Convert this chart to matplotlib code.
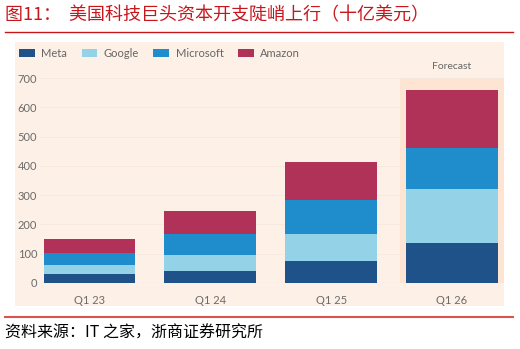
import matplotlib
matplotlib.use("Agg")
import matplotlib.pyplot as plt
from matplotlib.patches import Rectangle
from matplotlib.lines import Line2D
import numpy as np

# capex, billions of USD
quarters = ["Q1 23", "Q1 24", "Q1 25", "Q1 26"]
companies = ["Meta", "Google", "Microsoft", "Amazon"]
meta = [29, 41, 74, 137]
google = [33, 53, 92, 185]
microsoft = [40, 74, 117, 139]
amazon = [49, 79, 129, 200]
colors = ["#1f5289", "#94d2e8", "#1f8dcb", "#b13259"]

W, H = 520, 349
plt.rcParams['font.family'] = ['Lato', 'Noto Sans CJK SC', 'DejaVu Sans']

fig = plt.figure(figsize=(W / 100, H / 100), dpi=100)
fig.patch.set_facecolor("white")

def fx(px):
    return px / W

def fy(py):
    return 1 - py / H

# peach panel behind the chart
fig.patches.append(Rectangle((fx(15), fy(306)), fx(504) - fx(15), fy(42) - fy(306),
                             transform=fig.transFigure, facecolor="#fdf0e6",
                             edgecolor="none", zorder=0))

ymax = 760
ppu = 0.292  # pixels per unit
ax = fig.add_axes([fx(40), fy(282.7), fx(504) - fx(40), ymax * ppu / H])
ax.set_facecolor("none")
ax.set_zorder(1)

x = np.arange(len(quarters))
width = 0.76
series = [meta, google, microsoft, amazon]
bottom = np.zeros(len(quarters))
for name, vals, c in zip(companies, series, colors):
    ax.bar(x, vals, width, bottom=bottom, color=c, label=name, zorder=3)
    bottom += np.array(vals)

# forecast shading around the last bar
ax.add_patch(Rectangle((x[-1] - 0.43, 0), 0.86, 702, facecolor="#fde4d3",
                       edgecolor="none", zorder=1))
ax.text(x[-1], 742, "Forecast", ha="center", va="center", fontsize=7.5,
        color="#666666")

ax.set_xlim(-0.409, 3.43)
ax.set_ylim(0, ymax)
ax.set_yticks(range(0, 701, 100))
ax.set_xticks(x)
ax.set_xticklabels(quarters)
ax.tick_params(axis="both", length=0, labelsize=8, colors="#6b6b6b")
ax.tick_params(axis="y", pad=2)
ax.tick_params(axis="x", pad=9)
for s in ax.spines.values():
    s.set_visible(False)
ax.yaxis.grid(True, color="#f6e8dc", linewidth=0.6, zorder=0)
ax.axhline(0, color="#e6d6ca", linewidth=0.8, zorder=2)

fig.legend(loc="upper left", bbox_to_anchor=(fx(9), fy(38)), ncol=4,
           frameon=False, fontsize=8, handlelength=1.4, handleheight=0.7,
           handletextpad=0.6, columnspacing=1.3, labelcolor="#666666")

# title, rules and source
fig.text(fx(5), fy(15), "图11：  美国科技巨头资本开支陡峭上行（十亿美元）",
         color="#c8161d", fontsize=13, va="center", ha="left",
         family=["Noto Sans CJK SC"])
fig.add_artist(Line2D([fx(5), fx(513)], [fy(31.5), fy(31.5)], color="#c8161d",
                      linewidth=1.0, transform=fig.transFigure))
fig.add_artist(Line2D([fx(5), fx(513)], [fy(317), fy(317)], color="#d9534f",
                      linewidth=1.5, transform=fig.transFigure))
fig.text(fx(5), fy(333), "资料来源：IT 之家，浙商证券研究所", color="black",
         fontsize=11.5, va="center", ha="left",
         family=["Noto Sans CJK SC", "DejaVu Sans"])

fig.savefig("out.png", dpi=100)
